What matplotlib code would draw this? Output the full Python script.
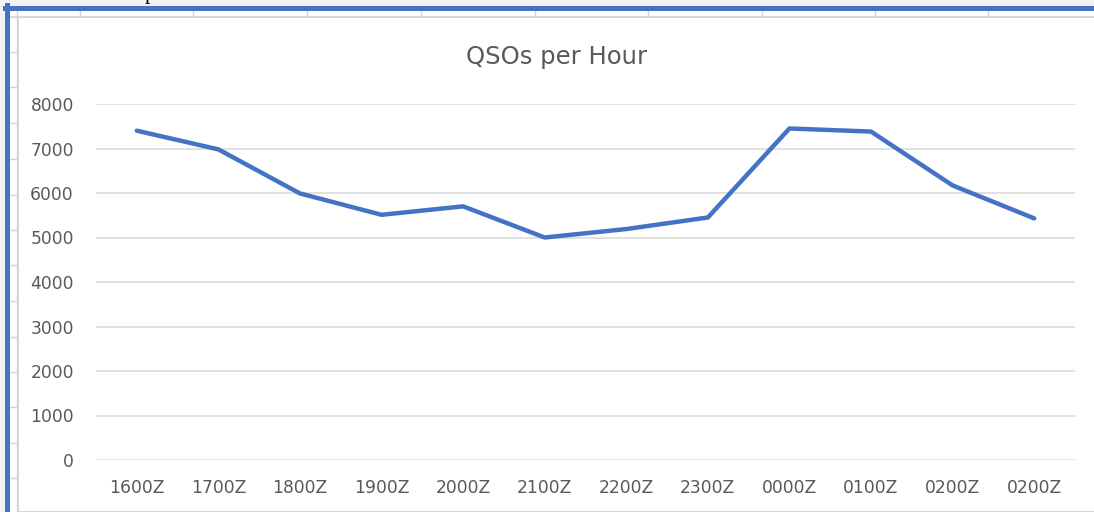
import matplotlib
matplotlib.use("Agg")
import matplotlib.pyplot as plt
from matplotlib.lines import Line2D
from matplotlib.patches import Rectangle

hours = ["1600Z", "1700Z", "1800Z", "1900Z", "2000Z", "2100Z",
         "2200Z", "2300Z", "0000Z", "0100Z", "0200Z", "0200Z"]
qsos = [7400, 6980, 5990, 5510, 5700, 5000, 5190, 5450, 7450, 7380, 6170, 5430]
yticks = [0, 1000, 2000, 3000, 4000, 5000, 6000, 7000, 8000]

W, H = 1094, 512
fig = plt.figure(figsize=(W / 100, H / 100), dpi=100)
fig.patch.set_facecolor("white")

# spreadsheet frame around the chart (screenshot decoration)
grid_c = "#d4d4d4"
fig.add_artist(Rectangle((0, 0), 1, 1, transform=fig.transFigure,
                         facecolor="#f3f3f3", edgecolor="none", zorder=-5))
fig.add_artist(Rectangle((18 / W, 0), 1, 1 - 17 / H, transform=fig.transFigure,
                         facecolor="white", edgecolor="#cfcfcf", lw=1.2, zorder=-4))
fig.add_artist(Rectangle((9 / W, 1 - 17 / H), 1, 7 / H, transform=fig.transFigure,
                         facecolor="white", edgecolor="none", zorder=-4))
fig.add_artist(Rectangle((9 / W, 0), 8 / W, 1 - 10 / H, transform=fig.transFigure,
                         facecolor="white", edgecolor="none", zorder=-4))
for xs in [80, 193, 307, 421, 535, 648, 762, 875, 988]:
    fig.add_artist(Line2D([xs / W, xs / W], [1 - 10 / H, 1 - 17 / H],
                          transform=fig.transFigure, color=grid_c, lw=1))
for ys in [52, 87, 123, 159, 195, 230, 265, 301, 337, 372, 407, 443, 478]:
    fig.add_artist(Line2D([9 / W, 17 / W], [1 - ys / H, 1 - ys / H],
                          transform=fig.transFigure, color=grid_c, lw=1))
fig.add_artist(Line2D([16.5 / W, 16.5 / W], [0, 1 - 10 / H],
                      transform=fig.transFigure, color=grid_c, lw=1))
fig.add_artist(Line2D([9 / W, 1], [1 - 16.5 / H, 1 - 16.5 / H],
                      transform=fig.transFigure, color=grid_c, lw=1.2))
# blue selection border
fig.add_artist(Line2D([6.5 / W, 6.5 / W], [0, 1 - 5 / H],
                      transform=fig.transFigure, color="#4472C4", lw=3.6))
fig.add_artist(Line2D([5 / W, 1], [1 - 7.5 / H, 1 - 7.5 / H],
                      transform=fig.transFigure, color="#4472C4", lw=3.6))
# descender of a line of text above the screenshot
fig.text(150 / W, 1 + 5 / H, "p", family="Liberation Serif", fontsize=16,
         ha="center", va="center", color="black", zorder=-3)

ax = fig.add_axes([96 / W, 52 / H, 979 / W, 356 / H])
ax.plot(range(len(hours)), qsos, color="#4472C4", lw=3.2,
        solid_joinstyle="round", solid_capstyle="round", zorder=3)

ax.set_xlim(-0.5, len(hours) - 0.5)
ax.set_ylim(0, 8000)
ax.set_yticks(yticks)
ax.set_yticklabels([str(v) for v in yticks])
ax.set_xticks(range(len(hours)))
ax.set_xticklabels(hours)
ax.grid(axis="y", color="#d9d9d9", lw=1.1)
ax.set_axisbelow(True)
for s in ax.spines.values():
    s.set_visible(False)
ax.tick_params(length=0, colors="#595959", labelsize=12.3)
ax.tick_params(axis="y", pad=16)
ax.tick_params(axis="x", pad=14)
for lab in ax.get_xticklabels() + ax.get_yticklabels():
    lab.set_family("DejaVu Sans")

fig.text(557 / W, 1 - 57 / H, "QSOs per Hour", family="DejaVu Sans", fontsize=17.5,
         ha="center", va="center", color="#595959")

fig.savefig("out.png", dpi=100, facecolor=fig.get_facecolor())
